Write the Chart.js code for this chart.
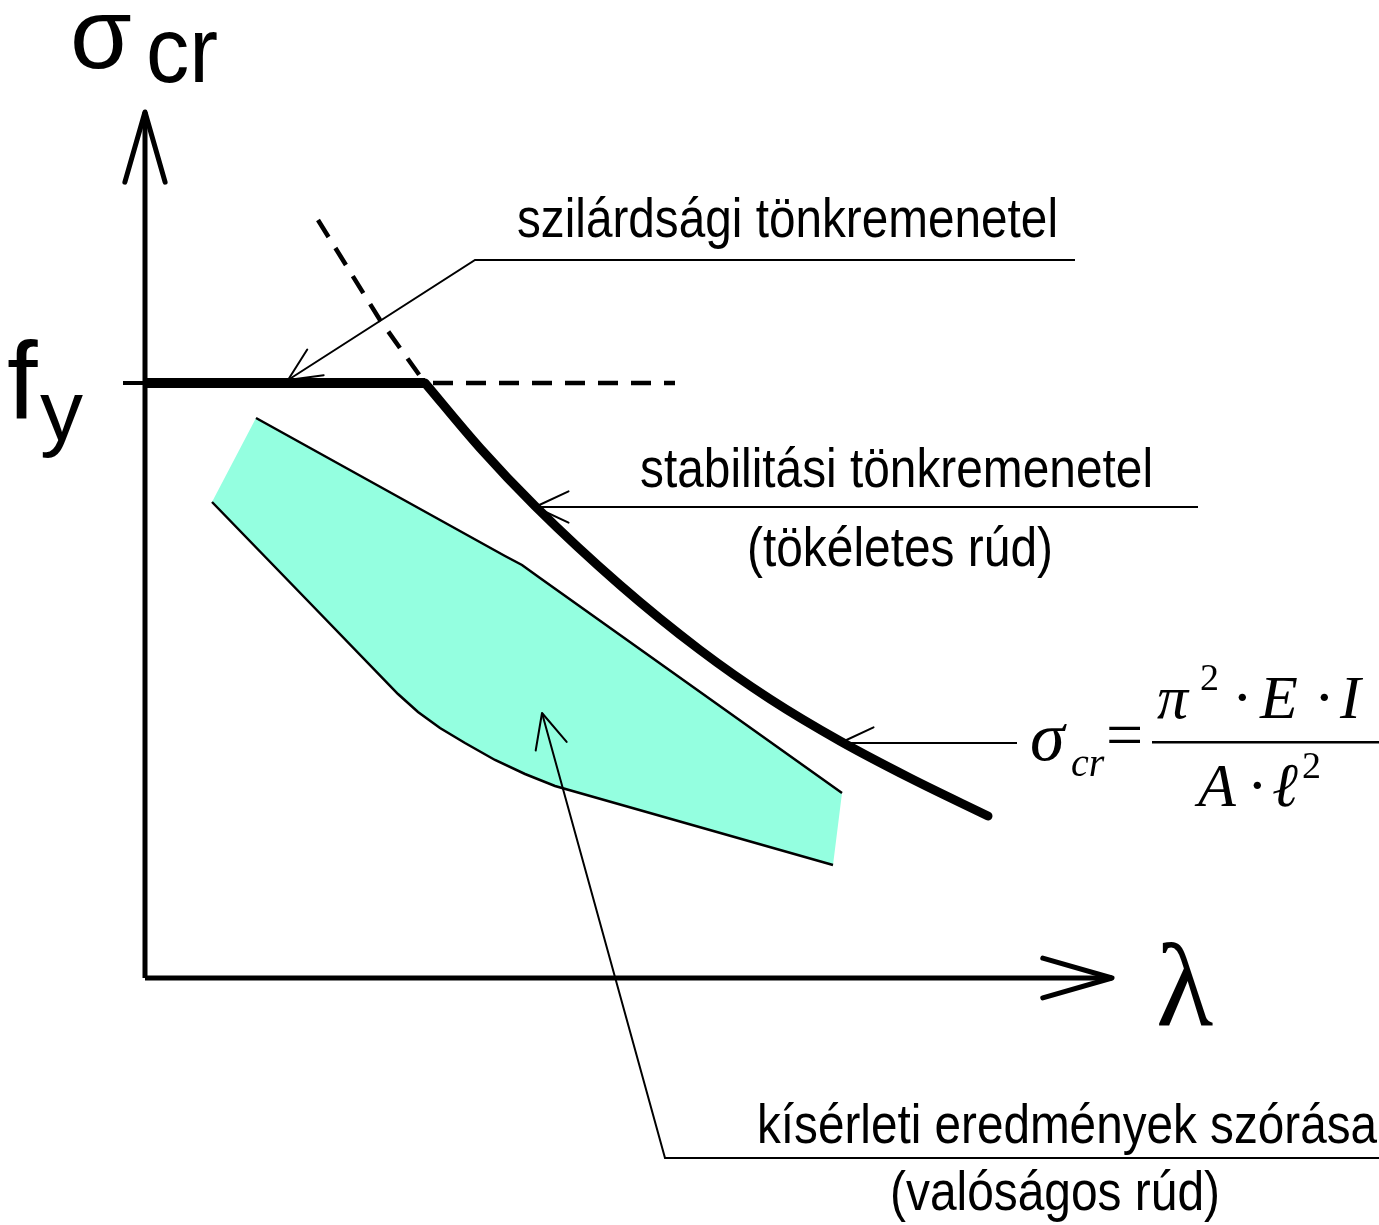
<!DOCTYPE html>
<html>
<head>
<meta charset="utf-8">
<script src="https://cdn.jsdelivr.net/npm/chart.js@4.4.1/dist/chart.umd.min.js"></script>
<style>
  html, body { margin: 0; padding: 0; background: #ffffff; }
  #wrap { width: 1379px; height: 1225px; }
</style>
</head>
<body>
<div id="wrap"><canvas id="c" width="1379" height="1225"></canvas></div>
<script>
// Buckling diagram: critical stress σcr versus slenderness λ.
// Coordinates are in diagram units with the origin at the axes' crossing.

const axisSigma = [{x: 0, y: 0}, {x: 0, y: 866}];
const axisLambda = [{x: 0, y: 0}, {x: 967, y: 0}];

// yield stress plateau f_y
const yieldStub = [{x: -22, y: 595}, {x: 0, y: 595}];
const yieldPlateau = [{x: 0, y: 595}, {x: 280, y: 595}];
const yieldExtension = [{x: 280, y: 595}, {x: 530, y: 595}];

// Euler hyperbola (perfect column) and its dashed part above f_y
const eulerCurve = [
  {x: 280, y: 595}, {x: 335, y: 530}, {x: 390, y: 472}, {x: 475, y: 393},
  {x: 555, y: 328}, {x: 625, y: 279}, {x: 695, y: 237}, {x: 765, y: 200}, {x: 843, y: 162}
];
const eulerExtension = [{x: 173, y: 758}, {x: 235, y: 658}, {x: 280, y: 595}];

// scatter band of test results (real columns)
const bandUpper = [
  {x: 111, y: 560}, {x: 360, y: 422}, {x: 377, y: 413}, {x: 395, y: 400}, {x: 697, y: 185}
];
const bandLower = [
  {x: 67, y: 476}, {x: 162, y: 378}, {x: 253, y: 284}, {x: 273, y: 266}, {x: 295, y: 250},
  {x: 320, y: 235}, {x: 350, y: 218}, {x: 380, y: 204}, {x: 410, y: 192}, {x: 688, y: 113}
];

// leader lines, each ending at its arrow tip
const leaderStrength = [{x: 930, y: 718}, {x: 330, y: 718}, {x: 143, y: 598}];
const leaderStability = [{x: 1053, y: 471}, {x: 390, y: 471}];
const leaderEuler = [{x: 872, y: 235}, {x: 695, y: 235}];
const leaderTests = [{x: 1234, y: -180}, {x: 520, y: -180}, {x: 397, y: 265}];

// texts
const axisYLabel = ['σ', 'cr'];
const yieldLabel = ['f', 'y'];
const axisXLabel = 'λ';
const strengthLabel = 'szilárdsági tönkremenetel';
const stabilityLabel = ['stabilitási tönkremenetel', '(tökéletes rúd)'];
const testsLabel = ['kísérleti eredmények szórása', '(valóságos rúd)'];

const bandShape = bandUpper.concat(bandLower.slice().reverse());

const NARROW = '"Liberation Sans Narrow", "Liberation Sans", Arial, sans-serif';
const SANS = '"Liberation Sans", Arial, sans-serif';
const SERIF = '"Liberation Serif", "Times New Roman", serif';

function line(data, width, extra) {
  return Object.assign({
    data: data, showLine: true, borderColor: '#000000', borderWidth: width,
    pointRadius: 0, pointHoverRadius: 0, fill: false, tension: 0
  }, extra || {});
}

const datasets = [
  line(bandShape, 0, {fill: 'shape', backgroundColor: 'rgb(148,255,224)', borderColor: 'rgba(0,0,0,0)', order: 20}),
  line(bandUpper, 2.5, {order: 15}),
  line(bandLower, 2.5, {order: 15}),
  line(leaderTests, 2, {order: 12, arrowHead: {len: 38, ang: 25, w: 2}}),
  line(leaderStrength, 2, {order: 12, arrowHead: {len: 36, ang: 25, w: 2}}),
  line(leaderStability, 2, {order: 12, arrowHead: {len: 37, ang: 25, w: 2}}),
  line(leaderEuler, 2, {order: 12, arrowHead: {len: 37, ang: 25, w: 2}}),
  line(yieldExtension, 4.5, {borderDash: [20, 13], borderDashOffset: 25, order: 10}),
  line(eulerExtension, 4.5, {borderDash: [20, 13], order: 10}),
  line(yieldStub, 4, {order: 9}),
  line(axisSigma, 5, {order: 8, arrowHead: {len: 73, ang: 16, w: 5}}),
  line(axisLambda, 5, {order: 8, arrowHead: {len: 72, ang: 16, w: 5}}),
  line(yieldPlateau, 10, {order: 5, borderCapStyle: 'butt'}),
  line(eulerCurve, 9, {order: 5, cubicInterpolationMode: 'monotone', borderCapStyle: 'round', borderJoinStyle: 'round'})
];

const arrowHeads = {
  id: 'arrowHeads',
  afterDatasetsDraw(chart) {
    const ctx = chart.ctx;
    chart.data.datasets.forEach((ds, i) => {
      if (!ds.arrowHead) return;
      const pts = chart.getDatasetMeta(i).data;
      const tip = pts[pts.length - 1], prev = pts[pts.length - 2];
      const a = Math.atan2(prev.y - tip.y, prev.x - tip.x);
      const d = ds.arrowHead.ang * Math.PI / 180, L = ds.arrowHead.len;
      ctx.save();
      ctx.strokeStyle = '#000';
      ctx.lineWidth = ds.arrowHead.w;
      ctx.lineCap = 'round';
      ctx.lineJoin = 'round';
      ctx.beginPath();
      ctx.moveTo(tip.x + L * Math.cos(a + d), tip.y + L * Math.sin(a + d));
      ctx.lineTo(tip.x, tip.y);
      ctx.lineTo(tip.x + L * Math.cos(a - d), tip.y + L * Math.sin(a - d));
      ctx.stroke();
      ctx.restore();
    });
  }
};

function textFit(ctx, text, x, y, font, width) {
  ctx.save();
  ctx.font = font;
  const w = ctx.measureText(text).width;
  ctx.translate(x, y);
  if (width) ctx.scale(width / w, 1);
  ctx.textAlign = 'left';
  ctx.textBaseline = 'alphabetic';
  ctx.fillText(text, 0, 0);
  ctx.restore();
}

const labels = {
  id: 'labels',
  afterDraw(chart) {
    const ctx = chart.ctx;
    ctx.save();
    ctx.fillStyle = '#000';
    // axis titles
    textFit(ctx, axisYLabel[0], 70, 68, '100px ' + SANS);
    textFit(ctx, axisYLabel[1], 146, 82, '92px ' + SANS, 72);
    textFit(ctx, yieldLabel[0], 7, 418, '110px ' + SANS);
    textFit(ctx, yieldLabel[1], 40, 440, '86px ' + SANS);
    textFit(ctx, axisXLabel, 1156, 1025, '118px ' + SERIF);
    // annotations
    const f = '56px ' + NARROW;
    textFit(ctx, strengthLabel, 517, 237, f, 541);
    textFit(ctx, stabilityLabel[0], 640, 487, f, 513);
    textFit(ctx, stabilityLabel[1], 747, 566, f, 306);
    textFit(ctx, testsLabel[0], 757, 1143, f, 620);
    textFit(ctx, testsLabel[1], 890, 1210, f, 330);
    // Euler formula
    const it = 'italic 62px ' + SERIF;
    textFit(ctx, 'σ', 1030, 760, 'italic 70px ' + SERIF);
    textFit(ctx, 'cr', 1071, 776, 'italic 40px ' + SERIF);
    textFit(ctx, '=', 1106, 757, '66px ' + SERIF);
    ctx.fillRect(1152, 741, 227, 2.5);
    textFit(ctx, 'π', 1157, 718, it);
    textFit(ctx, '2', 1200, 690, '38px ' + SERIF);
    textFit(ctx, '·', 1232, 718, '62px ' + SERIF);
    textFit(ctx, 'E', 1260, 718, it);
    textFit(ctx, '·', 1314, 718, '62px ' + SERIF);
    textFit(ctx, 'I', 1340, 718, it);
    textFit(ctx, 'A', 1198, 806, it);
    textFit(ctx, '·', 1247, 806, '62px ' + SERIF);
    textFit(ctx, 'ℓ', 1272, 806, it);
    textFit(ctx, '2', 1302, 778, '38px ' + SERIF);
    ctx.restore();
  }
};

new Chart(document.getElementById('c'), {
  type: 'scatter',
  data: {datasets: datasets},
  options: {
    responsive: false,
    animation: false,
    events: [],
    layout: {padding: 0},
    plugins: {legend: {display: false}, tooltip: {enabled: false}},
    scales: {
      x: {type: 'linear', min: -145, max: 1234, display: false},
      y: {type: 'linear', min: -247, max: 978, display: false}
    }
  },
  plugins: [arrowHeads, labels]
});
</script>
</body>
</html>
